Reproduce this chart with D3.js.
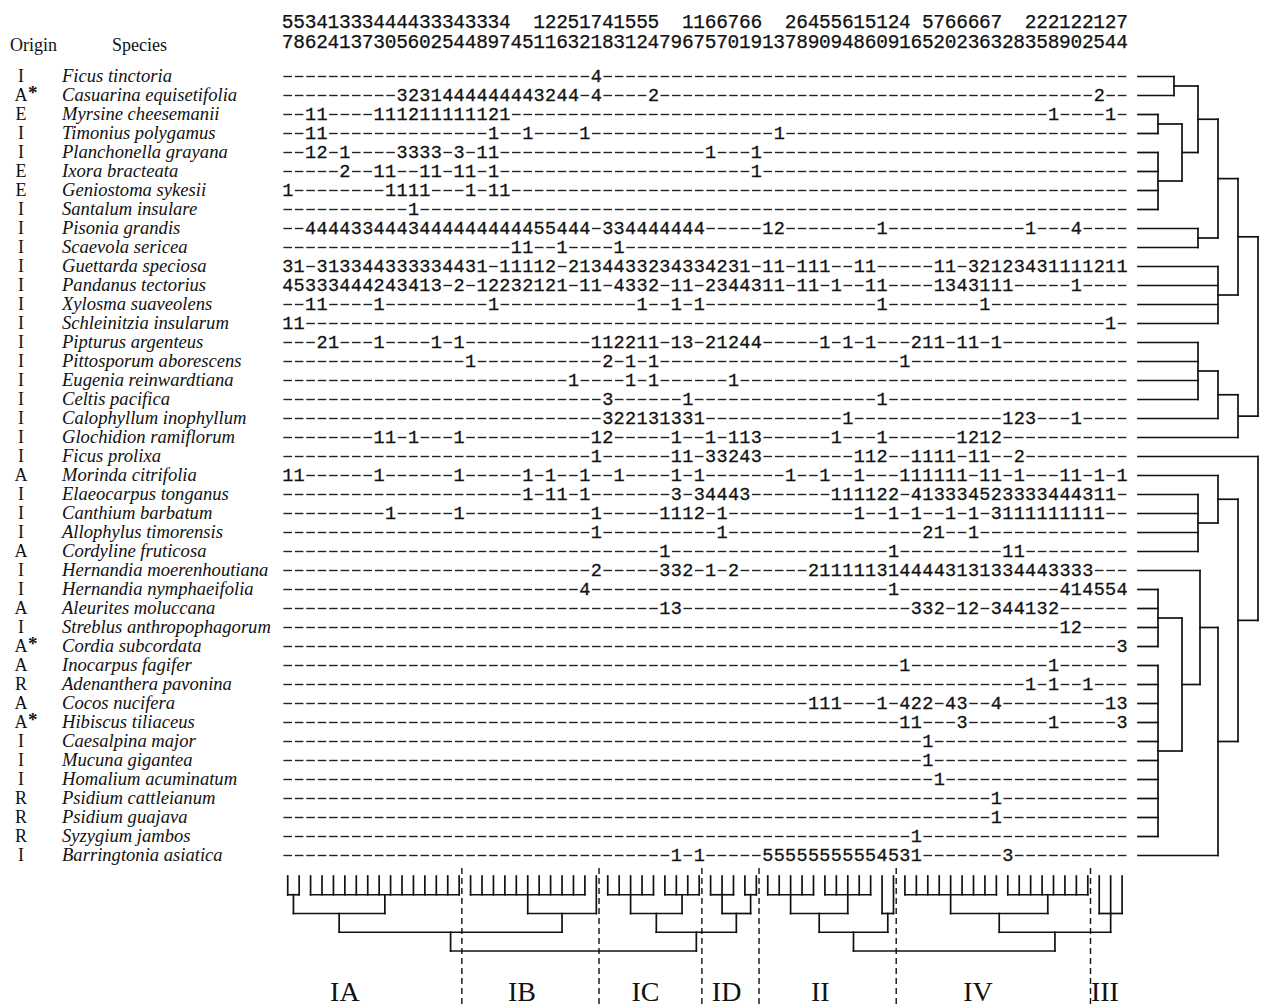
<!DOCTYPE html>
<html><head><meta charset="utf-8">
<script src="https://cdn.jsdelivr.net/npm/d3@7/dist/d3.min.js"></script>
<style>html,body{margin:0;padding:0;background:#fff;}svg{display:block}</style>
</head><body>
<svg id="chart" width="1261" height="1006"></svg>
<script>
// ---------------- DATA ----------------
const origins = ["I","A*","E","I","I","E","E","I","I","I","I","I","I","I","I","I","I","I","I","I","I","A","I","I","I","A","I","I","A","I","A*","A","R","A","A*","I","I","I","R","R","R","I"];
const species = ["Ficus tinctoria","Casuarina equisetifolia","Myrsine cheesemanii","Timonius polygamus","Planchonella grayana","Ixora bracteata","Geniostoma sykesii","Santalum insulare","Pisonia grandis","Scaevola sericea","Guettarda speciosa","Pandanus tectorius","Xylosma suaveolens","Schleinitzia insularum","Pipturus argenteus","Pittosporum aborescens","Eugenia reinwardtiana","Celtis pacifica","Calophyllum inophyllum","Glochidion ramiflorum","Ficus prolixa","Morinda citrifolia","Elaeocarpus tonganus","Canthium barbatum","Allophylus timorensis","Cordyline fruticosa","Hernandia moerenhoutiana","Hernandia nymphaeifolia","Aleurites moluccana","Streblus anthropophagorum","Cordia subcordata","Inocarpus fagifer","Adenanthera pavonina","Cocos nucifera","Hibiscus tiliaceus","Caesalpina major","Mucuna gigantea","Homalium acuminatum","Psidium cattleianum","Psidium guajava","Syzygium jambos","Barringtonia asiatica"];

// plot numbers (tens digit row, units digit row); blank = single-digit plot
const plotTens  = "55341333444433343334  12251741555  1166766  26455615124 5766667  222122127";
const plotUnits = "78624137305602544897451163218312479675701913789094860916520236328358902544";

// cover-abundance classes: [first plot column, run of classes] ('-' = absent)
const cover = [
  [[27,"4"]],
  [[10,"3231444444443244-4----2"],[71,"2"]],
  [[2,"11----111211111121"],[67,"1----1"]],
  [[2,"11"],[18,"1--1----1"],[43,"1"]],
  [[2,"12-1----3333-3-11"],[37,"1---1"]],
  [[5,"2--11--11-11-1"],[41,"1"]],
  [[0,"1"],[9,"1111---1-11"]],
  [[11,"1"]],
  [[2,"4444334443444444444455444-334444444"],[42,"12"],[52,"1"],[65,"1---4"]],
  [[20,"11--1----1"]],
  [[0,"31-313344333334431-11112-2134433234334231-11-111--11-----11-32123431111211"]],
  [[0,"45333444243413-2-12232121-11-4332-11-2344311-11-1--11----1343111"],[69,"1"]],
  [[2,"11----1---------1"],[31,"1--1-1"],[52,"1"],[61,"1"]],
  [[0,"11"],[72,"1"]],
  [[3,"21---1----1-1"],[27,"112211-13-21244-----1-1-1---211-11-1"]],
  [[16,"1"],[28,"2-1-1"],[54,"1"]],
  [[25,"1----1-1"],[39,"1"]],
  [[28,"3"],[35,"1"],[52,"1"]],
  [[28,"322131331"],[49,"1"],[63,"123---1"]],
  [[8,"11-1---1"],[27,"12-----1--1-113"],[48,"1---1"],[59,"1212"]],
  [[27,"1"],[34,"11-33243"],[50,"112--1111-11--2"]],
  [[0,"11"],[8,"1"],[15,"1"],[21,"1-1--1--1----1-1"],[44,"1--1--1---111111-11-1---11-1-1"]],
  [[21,"1-11-1"],[34,"3-34443"],[48,"111122-413334523333444311"]],
  [[9,"1-----1-----------1-----1112-1"],[50,"1--1-1--1-1-3111111111"]],
  [[27,"1"],[38,"1"],[56,"21--1"]],
  [[33,"1"],[53,"1"],[63,"11"]],
  [[27,"2"],[33,"332-1-2"],[46,"2111113144443131334443333"]],
  [[26,"4"],[53,"1"],[68,"414554"]],
  [[33,"13"],[55,"332-12-344132"]],
  [[68,"12"]],
  [[73,"3"]],
  [[54,"1"],[67,"1"]],
  [[65,"1-1--1"]],
  [[46,"111---1-422-43--4"],[72,"13"]],
  [[54,"11---3"],[67,"1"],[73,"3"]],
  [[56,"1"]],
  [[56,"1"]],
  [[57,"1"]],
  [[62,"1"]],
  [[62,"1"]],
  [[55,"1"]],
  [[34,"1-1"],[42,"55555555554531"],[63,"3"]]
];

const N = (h, c) => ({h, c});
// species classification (leaves = species row index, h = fusion level)
const speciesTree = [
  N(6, [
    N(5, [
      N(4, [ N(3, [ N(1.8, [0,1]), N(2.2, [ N(1, [2,3]), N(1, [4,5,6,7]) ]) ]), N(3, [8,9]) ]),
      N(4, [10,11,12,13])
    ]),
    N(5, [ N(4, [ N(3, [14,15,16,17]), 18 ]), 19 ])
  ]),
  N(6, [
    20,
    N(5, [
      N(4, [21, N(3, [22,23,24,25])]),
      N(4, [ N(3.1, [26, N(2.2, [ N(1, [27,28,29,30]), N(1, [31,32,33,34,35,36,37,38,39,40]) ]) ]), 41 ])
    ])
  ])
];
// plot classification (leaves = plot column index)
const plotTree = [
  N(4, [
    N(3, [
      N(2, [ N(1, [0,1]), N(1, [2,3,4,5,6,7,8,9,10,11,12,13,14,15]) ]),
      N(2, [ N(1, [16,17,18,19,20,21,22,23,24,25,26]), 27 ])
    ]),
    N(3, [
      N(2, [ N(1, [28,29,30,31,32]), N(1, [33,34,35,36]) ]),
      N(2, [ N(1, [37,38,39]), N(1, [40,41]) ])
    ])
  ]),
  N(4, [
    N(3, [ N(2, [ N(1, [42,43,44,45,46]), N(1, [47,48,49,50,51]) ]), N(2, [52,53]) ]),
    N(3, [ N(2, [ N(1, [54,55,56,57,58,59,60,61,62]), N(1, [63,64,65,66,67,68,69,70]) ]), N(2, [71,72,73]) ])
  ])
];
const groupNames = ["IA","IB","IC","ID","II","IV","III"];
const groupLabelCol = [5.5, 21, 31.8, 38.9, 47.1, 60.9, 72.0];
const groupBreaks = [16, 28, 37, 42, 54, 71];

// ---------------- SCALES ----------------
const nCols = plotUnits.length;
const svg = d3.select("#chart");
const ink = "#111";
const x = d3.scaleBand().domain(d3.range(nCols)).range([282, 1127.8]);
const xc = i => x(i) + x.bandwidth() / 2;
const colX = d3.scaleLinear().domain([0, nCols]).range([282, 1127.8]);
const y = d3.scalePoint().domain(d3.range(species.length)).range([76, 855]);
const hx = d3.scaleLinear().domain([0, 6]).range([1138, 1258]);   // species dendrogram
const hy = d3.scaleLinear().domain([0, 4]).range([876, 951]);     // plot dendrogram

// ---------------- HEADER ----------------
const mono = "'Liberation Mono','Courier New',monospace";
const serif = "'Liberation Serif','Times New Roman',serif";
[plotTens, plotUnits].forEach((row, k) => {
  svg.append("g").selectAll("text")
    .data(row.split("").map((ch, i) => ({ch, i})).filter(d => d.ch !== " "))
    .join("text")
    .attr("x", d => xc(d.i)).attr("y", k === 0 ? 28 : 47.5)
    .attr("text-anchor", "middle")
    .style("font-family", mono).style("font-size", "19.5px").attr("fill", ink)
    .attr("stroke", ink).attr("stroke-width", 0.25)
    .text(d => d.ch);
});
svg.append("text").attr("x", 10).attr("y", 51).style("font-family", serif)
  .style("font-size", "18px").attr("fill", ink).text("Origin");
svg.append("text").attr("x", 112).attr("y", 51).style("font-family", serif)
  .style("font-size", "18px").attr("fill", ink).text("Species");

// ---------------- ROW LABELS ----------------
const lab = svg.append("g");
lab.selectAll("text.or").data(origins).join("text").attr("class", "or")
  .attr("x", 21).attr("y", (d, i) => y(i) + 5.5)
  .attr("text-anchor", "middle")
  .style("font-family", serif).style("font-size", "18px").attr("fill", ink)
  .text(d => d.replace("*", ""));
lab.selectAll("text.st").data(origins.map((d, i) => ({d, i})).filter(o => o.d.includes("*"))).join("text")
  .attr("class", "st").attr("x", 28).attr("y", o => y(o.i) + 4)
  .style("font-family", serif).style("font-size", "19px").style("font-weight", "bold").attr("fill", ink).text("*");
lab.selectAll("text.sp").data(species).join("text").attr("class", "sp")
  .attr("x", 62).attr("y", (d, i) => y(i) + 5.5)
  .style("font-family", serif).style("font-style", "italic").style("font-size", "18.6px").attr("fill", ink)
  .text(d => d);

// ---------------- TABLE ----------------
const cells = [];
cover.forEach((segs, r) => {
  const filled = new Map();
  segs.forEach(([start, run]) => run.split("").forEach((ch, k) => { if (ch !== "-") filled.set(start + k, ch); }));
  for (let c = 0; c < nCols; c++) cells.push({r, c, v: filled.get(c) || null});
});
const tbl = svg.append("g");
tbl.selectAll("line.dash").data(cells.filter(d => !d.v)).join("line").attr("class", "dash")
  .attr("x1", d => xc(d.c) - 4.3).attr("x2", d => xc(d.c) + 4.3)
  .attr("y1", d => y(d.r) + 0.5).attr("y2", d => y(d.r) + 0.5)
  .attr("stroke", "#222").attr("stroke-width", 1.4);
tbl.selectAll("text.v").data(cells.filter(d => d.v)).join("text").attr("class", "v")
  .attr("x", d => xc(d.c)).attr("y", d => y(d.r) + 6)
  .attr("text-anchor", "middle")
  .style("font-family", mono).style("font-size", "18.5px").attr("fill", ink)
  .attr("stroke", ink).attr("stroke-width", 0.3)
  .text(d => d.v);

// ---------------- DENDROGRAMS ----------------
function collect(node, posOf, segs) {
  if (typeof node === "number") return {p: posOf(node), h: 0};
  const kids = node.c.map(k => collect(k, posOf, segs));
  kids.forEach(k => segs.push({p1: k.p, p2: k.p, h1: k.h, h2: node.h}));
  const lo = d3.min(kids, k => k.p), hi = d3.max(kids, k => k.p);
  segs.push({p1: lo, p2: hi, h1: node.h, h2: node.h});
  return {p: (lo + hi) / 2, h: node.h};
}
const rSegs = [];
speciesTree.forEach(t => collect(t, i => y(i) + 0.5, rSegs));
svg.append("g").selectAll("line").data(rSegs).join("line")
  .attr("x1", d => hx(d.h1)).attr("x2", d => hx(d.h2))
  .attr("y1", d => d.p1).attr("y2", d => d.p2)
  .attr("stroke", ink).attr("stroke-width", 1.7).attr("stroke-linecap", "square");

const bSegs = [];
plotTree.forEach(t => collect(t, i => xc(i), bSegs));
svg.append("g").selectAll("line").data(bSegs).join("line")
  .attr("x1", d => d.p1).attr("x2", d => d.p2)
  .attr("y1", d => hy(d.h1)).attr("y2", d => hy(d.h2))
  .attr("stroke", ink).attr("stroke-width", 1.7).attr("stroke-linecap", "square");

svg.append("g").selectAll("line").data(groupBreaks).join("line")
  .attr("x1", d => colX(d) - 3).attr("x2", d => colX(d) - 3)
  .attr("y1", 868).attr("y2", 1004)
  .attr("stroke", ink).attr("stroke-width", 1.4).attr("stroke-dasharray", "6,4");

svg.append("g").selectAll("text").data(groupNames).join("text")
  .attr("x", (d, i) => colX(groupLabelCol[i])).attr("y", 1001)
  .attr("text-anchor", "middle")
  .style("font-family", serif).style("font-size", "28px").attr("fill", ink)
  .text(d => d);
</script>
</body></html>
